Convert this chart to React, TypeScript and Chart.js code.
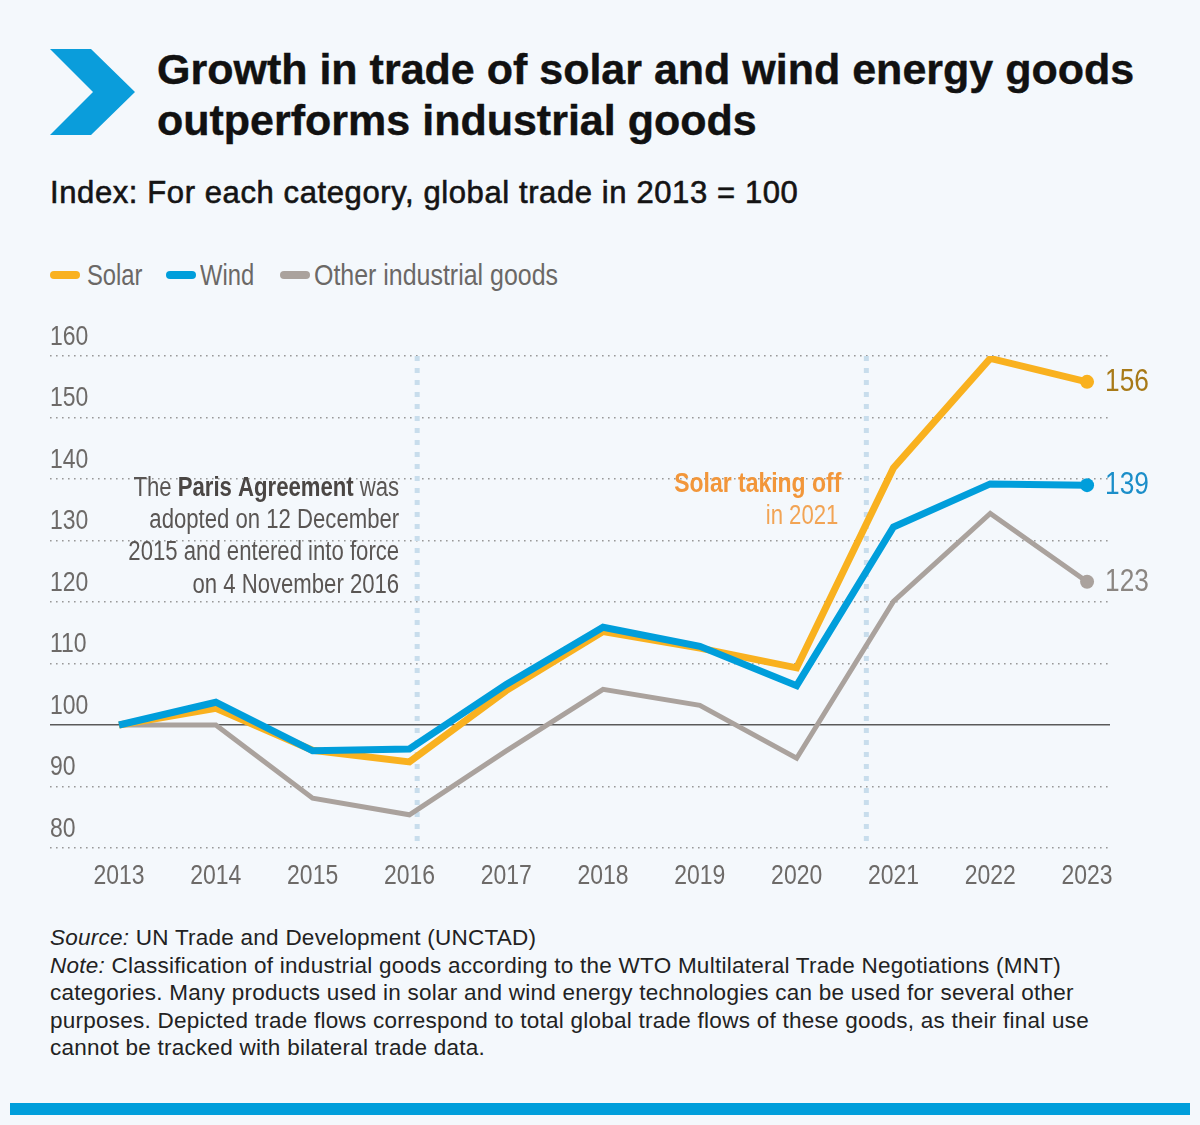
import React, { useEffect, useRef } from "react";
import { Chart, registerables } from "chart.js";

Chart.register(...registerables);

// ---- Data ----
const years = [2013, 2014, 2015, 2016, 2017, 2018, 2019, 2020, 2021, 2022, 2023];
const solar = [100, 102.7, 95.9, 94.0, 105.6, 115.2, 112.5, 109.3, 141.8, 159.6, 155.8];
const wind = [100, 103.7, 95.8, 96.1, 106.6, 115.9, 112.8, 106.4, 132.2, 139.2, 139.0];
const other = [100, 100, 88.1, 85.4, 95.8, 105.8, 103.2, 94.6, 120.1, 134.4, 123.3];
const seriesNames = ["Solar", "Wind", "Other industrial goods"];
const endLabels = ["156", "139", "123"];
const yTickValues = [80, 90, 100, 110, 120, 130, 140, 150, 160];
const markerYears = [2016.08, 2020.72];
const parisLines = [
  [["The ", false], ["Paris Agreement", true], [" was", false]],
  [["adopted on 12 December", false]],
  [["2015 and entered into force", false]],
  [["on 4 November 2016", false]],
] as [string, boolean][][];
const solarNote = ["Solar taking off", "in 2021"];

const COLORS = {
  solar: "#f9b11f",
  wind: "#009edb",
  other: "#aaa29d",
  solarLabel: "#a87a18",
  windLabel: "#1b8ec9",
  otherLabel: "#8b8682",
  tick: "#6d6a68",
  bg: "#f4f8fc",
};
const SANS = '"Liberation Sans", Arial, Helvetica, sans-serif';
const NARROW_SCALE = 0.82;

function narrowText(
  ctx: CanvasRenderingContext2D,
  text: string,
  x: number,
  y: number,
  align: "left" | "right" | "center",
  font: string,
  color: string
) {
  ctx.save();
  ctx.font = font;
  ctx.fillStyle = color;
  ctx.textAlign = "left";
  ctx.textBaseline = "middle";
  const w = ctx.measureText(text).width * NARROW_SCALE;
  const left = align === "left" ? x : align === "right" ? x - w : x - w / 2;
  ctx.translate(left, y);
  ctx.scale(NARROW_SCALE, 1);
  ctx.fillText(text, 0, 0);
  ctx.restore();
  return w;
}

const annotationPlugin = {
  id: "annot",
  beforeDatasetsDraw(chart: any) {
    const { ctx, chartArea, scales } = chart;
    const x = scales.x;
    const y = scales.y;

    // tick labels
    const tickFont = `28px ${SANS}`;
    x.ticks.forEach((t: any) => {
      narrowText(ctx, String(t.value), x.getPixelForValue(t.value), chartArea.bottom + 28, "center", tickFont, COLORS.tick);
    });
    y.ticks.forEach((t: any) => {
      narrowText(ctx, String(t.value), chartArea.left, y.getPixelForValue(t.value) - 19, "left", tickFont, COLORS.tick);
    });

    // vertical marker lines
    ctx.save();
    ctx.strokeStyle = "#c8ddec";
    ctx.lineWidth = 5;
    ctx.setLineDash([5, 7]);
    markerYears.forEach((yr) => {
      const px = x.getPixelForValue(yr);
      ctx.beginPath();
      ctx.moveTo(px, chartArea.top);
      ctx.lineTo(px, chartArea.bottom);
      ctx.stroke();
    });
    ctx.restore();

    // Paris text
    const right = x.getPixelForValue(markerYears[0]) - 18;
    const top = y.getPixelForValue(138.5);
    parisLines.forEach((segs, i) => {
      let cx = right;
      const yy = top + i * 32.4;
      for (let s = segs.length - 1; s >= 0; s--) {
        const [txt, bold] = segs[s];
        const f = `${bold ? "bold " : ""}27px ${SANS}`;
        const w = narrowText(ctx, txt, cx, yy, "right", f, bold ? "#4a4644" : "#5a5654");
        cx -= w;
      }
    });
    // Solar note
    const r2 = x.getPixelForValue(markerYears[1]) - 25;
    const t2 = y.getPixelForValue(139.2);
    narrowText(ctx, solarNote[0], r2, t2, "right", `bold 28px ${SANS}`, "#f2963a");
    narrowText(ctx, solarNote[1], r2 - 3, t2 + 33, "right", `27px ${SANS}`, "#f2a455");
  },
  afterDatasetsDraw(chart: any) {
    const { ctx } = chart;
    const colors = [COLORS.solarLabel, COLORS.windLabel, COLORS.otherLabel];
    chart.data.datasets.forEach((ds: any, i: number) => {
      const meta = chart.getDatasetMeta(i);
      const pt = meta.data[meta.data.length - 1];
      narrowText(ctx, endLabels[i], pt.x + 18, pt.y, "left", `32px ${SANS}`, colors[i]);
    });
  },
};

export default function App() {
  const ref = useRef<HTMLCanvasElement>(null);
  useEffect(() => {
    document.body.style.margin = "0";
    document.body.style.background = COLORS.bg;
    const last = years.length - 1;
    const mk = (label: string, data: number[], color: string, width: number, order: number) => ({
      label,
      data: years.map((yr, i) => ({ x: yr, y: data[i] })),
      borderColor: color,
      backgroundColor: color,
      borderWidth: width,
      pointRadius: (c: any) => (c.dataIndex === last ? 7 : 0),
      pointBorderWidth: 0,
      pointBackgroundColor: color,
      tension: 0,
      order,
      fill: false,
    });
    const chart = new Chart(ref.current!, {
      type: "line",
      data: {
        datasets: [
          mk(seriesNames[0], solar, COLORS.solar, 7, 1),
          mk(seriesNames[1], wind, COLORS.wind, 7, 0),
          mk(seriesNames[2], other, COLORS.other, 5, 2),
        ],
      },
      options: {
        animation: false,
        responsive: true,
        maintainAspectRatio: false,
        events: [],
        layout: { padding: { left: 50, right: 90, top: 56, bottom: 52 } },
        plugins: { legend: { display: false }, tooltip: { enabled: false } },
        scales: {
          x: {
            type: "linear",
            min: 2012.287,
            max: 2023.237,
            afterBuildTicks: (scale: any) => {
              scale.ticks = years.map((v) => ({ value: v }));
            },
            grid: { display: false, drawTicks: false },
            border: { display: false },
            ticks: { display: false },
          },
          y: {
            min: 80,
            max: 160,
            afterBuildTicks: (scale: any) => {
              scale.ticks = yTickValues.map((v) => ({ value: v }));
            },
            ticks: { display: false },
            grid: {
              drawTicks: false,
              color: (c: any) => (c.tick && c.tick.value === 100 ? "#5a5a5a" : "#999999"),
              lineWidth: (c: any) => (c.tick && c.tick.value === 100 ? 1.4 : 1.6),
            },
            border: {
              display: false,
              dash: (c: any) => (c.tick && c.tick.value === 100 ? [] : [1.6, 4.4]),
            },
          },
        },
      },
      plugins: [annotationPlugin],
    } as any);
    return () => chart.destroy();
  }, []);

  const legendItems = [
    { name: seriesNames[0], color: COLORS.solar, sx: 50, tx: 87, scale: NARROW_SCALE },
    { name: seriesNames[1], color: COLORS.wind, sx: 166, tx: 200, scale: NARROW_SCALE },
    { name: seriesNames[2], color: COLORS.other, sx: 280, tx: 314, scale: 0.86 },
  ];

  return (
    <div style={{ position: "relative", width: 1200, height: 1125, background: COLORS.bg, overflow: "hidden" }}>
      <svg style={{ position: "absolute", left: 0, top: 0 }} width={200} height={150}>
        <polygon points="50,49 91,49 135,92 91,135 50,135 93,92" fill="#0a9ddb" />
      </svg>
      <div
        style={{
          position: "absolute",
          left: 157,
          top: 44,
          fontFamily: SANS,
          fontWeight: 700,
          fontSize: 43,
          lineHeight: "51px",
          color: "#111",
          WebkitTextStroke: "0.4px #111",
          whiteSpace: "nowrap",
        }}
      >
        Growth in trade of solar and wind energy goods
        <br />
        outperforms industrial goods
      </div>
      <div
        style={{
          position: "absolute",
          left: 50,
          top: 175,
          fontFamily: SANS,
          fontSize: 31,
          letterSpacing: "0.6px",
          lineHeight: "36px",
          color: "#141414",
          WebkitTextStroke: "0.6px #141414",
          whiteSpace: "nowrap",
        }}
      >
        Index: For each category, global trade in 2013 = 100
      </div>
      {legendItems.map((it, i) => (
        <React.Fragment key={i}>
          <span
            style={{
              position: "absolute",
              left: it.sx,
              top: 271,
              width: 30,
              height: 8,
              borderRadius: 4,
              background: it.color,
            }}
          />
          <span
            style={{
              position: "absolute",
              left: it.tx,
              top: 258,
              fontFamily: SANS,
              fontSize: 29,
              lineHeight: "34px",
              color: "#6b6866",
              whiteSpace: "nowrap",
              transform: `scaleX(${it.scale})`,
              transformOrigin: "left center",
            }}
          >
            {it.name}
          </span>
        </React.Fragment>
      ))}
      <div style={{ position: "absolute", left: 0, top: 300, width: 1200, height: 600 }}>
        <canvas ref={ref} />
      </div>
      <div
        style={{
          position: "absolute",
          left: 50,
          top: 924,
          width: 1120,
          fontFamily: SANS,
          fontSize: 22.5,
          letterSpacing: "0.25px",
          lineHeight: "27.5px",
          color: "#222",
          whiteSpace: "nowrap",
        }}
      >
        <i>Source:</i> UN Trade and Development (UNCTAD)
        <br />
        <i>Note:</i> Classification of industrial goods according to the WTO Multilateral Trade Negotiations (MNT)
        <br />
        categories. Many products used in solar and wind energy technologies can be used for several other
        <br />
        purposes. Depicted trade flows correspond to total global trade flows of these goods, as their final use
        <br />
        cannot be tracked with bilateral trade data.
      </div>
      <div style={{ position: "absolute", left: 10, top: 1103, width: 1180, height: 12, background: "#009edb" }} />
    </div>
  );
}
